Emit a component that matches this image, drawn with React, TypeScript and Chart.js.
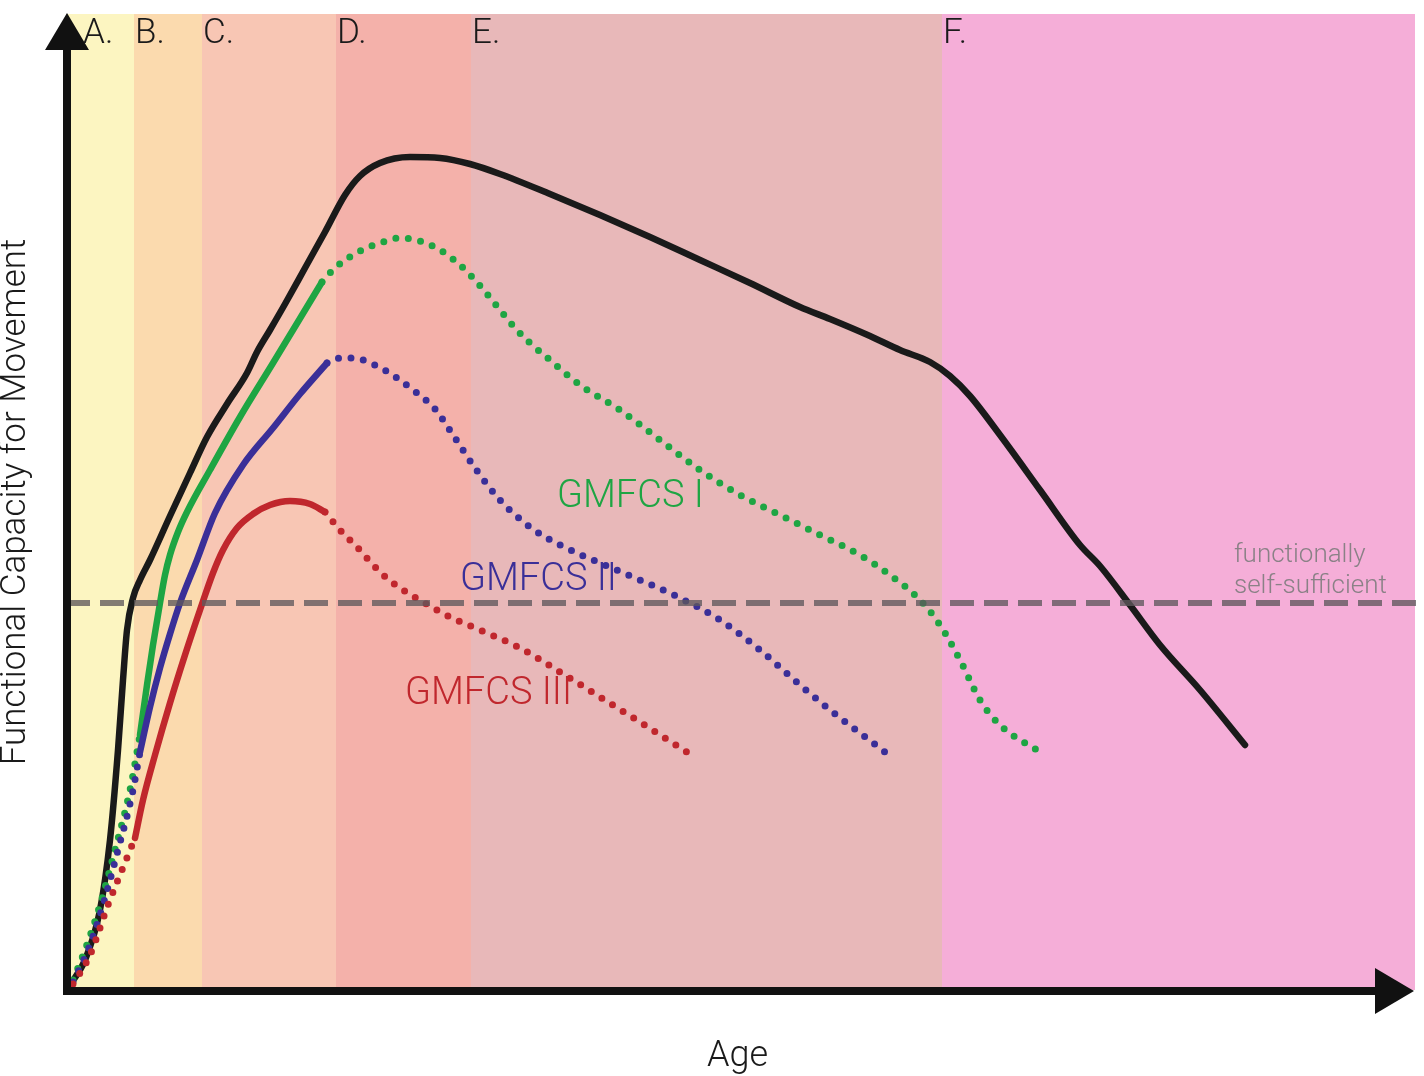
import React, { useEffect, useRef } from "react";
import { Chart, registerables } from "chart.js";

Chart.register(...registerables);

// Units: age (x) and functional capacity (y) in arbitrary units
const xMax = 1349;
const yMax = 976;

const bandLabels = ["A.", "B.", "C.", "D.", "E.", "F."];
const bandStarts = [0, 68, 136, 270, 405, 876];
const bandColors = ["#fcf5c1", "#fbdaae", "#f8c6b4", "#f4b1aa", "#e8b8b9", "#f5aed8"];

const selfSufficientLevel = 387;

const typical = [
  [4, 5], [19, 30], [34, 80], [44, 150], [52, 240], [57, 310], [61, 360], [67, 392],
  [74, 410], [84, 430], [104, 474], [124, 517], [141, 553], [161, 586], [181, 617],
  [191, 638], [204, 660], [219, 686], [239, 722], [259, 758], [279, 795], [294, 814],
  [314, 827], [344, 833], [374, 832], [404, 826], [434, 816], [484, 796], [534, 775],
  [584, 753], [634, 730], [684, 707], [734, 683], [764, 671], [804, 654], [834, 640],
  [864, 628], [884, 614], [904, 594], [934, 555], [974, 500], [1014, 445], [1034, 424],
  [1064, 385], [1094, 345], [1134, 300], [1179, 245],
];

const gmfcs1Early = [[7, 10], [19, 40], [34, 85], [49, 140], [64, 200], [74, 255]];
const gmfcs1Solid = [
  [74, 255], [81, 305], [87, 345], [94, 387], [99, 415], [104, 435], [112, 458],
  [121, 478], [144, 520], [174, 573], [207, 627], [227, 660], [256, 708],
];
const gmfcs1Late = [
  [256, 708], [269, 722], [292, 738], [314, 747], [334, 752], [354, 749], [374, 740],
  [394, 725], [416, 702], [434, 680], [449, 662], [464, 647], [484, 630], [514, 605],
  [554, 580], [594, 550], [634, 520], [674, 495], [714, 475], [754, 455], [794, 435],
  [824, 415], [854, 390], [874, 365], [894, 330], [914, 290], [934, 265], [974, 238],
];

const gmfcs2Early = [[7, 8], [22, 40], [37, 85], [52, 140], [66, 195], [74, 238]];
const gmfcs2Solid = [
  [74, 238], [84, 283], [94, 322], [104, 356], [114, 387], [131, 430], [149, 477],
  [177, 525], [207, 562], [234, 596], [261, 627],
];
const gmfcs2Late = [
  [261, 627], [274, 632], [287, 632], [311, 624], [331, 612], [351, 597], [369, 581],
  [389, 552], [409, 522], [434, 490], [464, 463], [494, 445], [534, 427], [574, 410],
  [614, 392], [654, 370], [694, 340], [734, 305], [764, 280], [794, 257], [819, 238],
];

const gmfcs3Early = [[7, 6], [24, 35], [42, 85], [56, 120], [69, 152]];
const gmfcs3Solid = [
  [69, 152], [77, 190], [89, 235], [104, 287], [119, 335], [134, 380], [147, 417],
  [157, 440], [171, 462], [187, 476], [204, 485], [224, 489], [244, 486], [259, 478],
];
const gmfcs3Late = [
  [259, 478], [274, 460], [291, 443], [314, 418], [334, 402], [359, 387], [384, 373],
  [414, 360], [454, 342], [494, 318], [534, 293], [574, 268], [624, 236],
];

const seriesLabels = ["GMFCS I", "GMFCS II", "GMFCS III"];
const seriesLabelPos = [[491, 493], [394, 410], [339, 296]];
const thresholdLabel = ["functionally", "self-sufficient"];

const BLACK = "#1a1a1a";
const GREEN = "#1ea543";
const BLUE = "#3a2f98";
const RED = "#c0272d";
const FONT = "Roboto, 'Liberation Sans', sans-serif";

const pts = (a: number[][]) => a.map(([x, y]) => ({ x, y }));

const solid = (data: number[][], color: string, width = 6.5) => ({
  data: pts(data),
  borderColor: color,
  borderWidth: width,
  borderCapStyle: "round" as const,
  borderJoinStyle: "round" as const,
  pointRadius: 0,
  cubicInterpolationMode: "monotone" as const,
  fill: false,
});
const dotted = (data: number[][], color: string) => ({
  ...solid(data, color, 7),
  borderDash: [0, 12.5],
});

export default function App() {
  const ref = useRef<HTMLCanvasElement>(null);
  useEffect(() => {
    if (!ref.current) return;
    const bgPlugin = {
      id: "bands",
      beforeDatasetsDraw(chart: any) {
        const { ctx, chartArea, scales } = chart;
        const x = scales.x;
        ctx.save();
        bandStarts.forEach((s, i) => {
          const x0 = x.getPixelForValue(s);
          const x1 = x.getPixelForValue(i + 1 < bandStarts.length ? bandStarts[i + 1] : xMax);
          ctx.fillStyle = bandColors[i];
          ctx.fillRect(x0, chartArea.top, x1 - x0, chartArea.bottom - chartArea.top);
        });
        ctx.restore();
      },
    };
    const overlay = {
      id: "overlay",
      afterDatasetsDraw(chart: any) {
        const { ctx, chartArea, scales } = chart;
        const x = scales.x;
        const y = scales.y;
        ctx.save();
        // axes
        const x0 = x.getPixelForValue(0) + 1;
        const y0 = y.getPixelForValue(0) + 1;
        ctx.strokeStyle = "#111";
        ctx.fillStyle = "#111";
        ctx.lineWidth = 8;
        ctx.lineCap = "round";
        ctx.beginPath();
        ctx.moveTo(x0, chartArea.top + 30);
        ctx.lineTo(x0, y0);
        ctx.lineTo(chartArea.right - 30, y0);
        ctx.stroke();
        ctx.beginPath();
        ctx.moveTo(x0, chartArea.top - 1);
        ctx.lineTo(x0 - 22, chartArea.top + 36);
        ctx.lineTo(x0 + 22, chartArea.top + 36);
        ctx.closePath();
        ctx.fill();
        ctx.beginPath();
        ctx.moveTo(chartArea.right - 1, y0);
        ctx.lineTo(chartArea.right - 40, y0 - 23);
        ctx.lineTo(chartArea.right - 40, y0 + 23);
        ctx.closePath();
        ctx.fill();

        // band letters
        ctx.font = `300 35px ${FONT}`;
        ctx.textBaseline = "middle";
        ctx.textAlign = "left";
        ctx.fillStyle = "#1a1a1a";
        bandLabels.forEach((l, i) => {
          const px = x.getPixelForValue(bandStarts[i]) + (i === 0 ? 17 : 1);
          ctx.fillText(l, px, chartArea.top + 20);
        });

        // series labels
        ctx.font = `300 38px ${FONT}`;
        const colors = [GREEN, BLUE, RED];
        seriesLabels.forEach((l, i) => {
          ctx.fillStyle = colors[i];
          ctx.fillText(l, x.getPixelForValue(seriesLabelPos[i][0]), y.getPixelForValue(seriesLabelPos[i][1]));
        });

        // threshold label
        ctx.font = `300 26px ${FONT}`;
        ctx.fillStyle = "#8a8186";
        ctx.fillText(thresholdLabel[0], x.getPixelForValue(1168), y.getPixelForValue(selfSufficientLevel + 48));
        ctx.fillText(thresholdLabel[1], x.getPixelForValue(1168), y.getPixelForValue(selfSufficientLevel + 17));

        // axis titles
        ctx.font = `300 36px ${FONT}`;
        ctx.fillStyle = "#1a1a1a";
        ctx.textAlign = "center";
        ctx.fillText("Age", (chartArea.left + chartArea.right) / 2 - 3, y0 + 66);
        ctx.font = `300 35px ${FONT}`;
        ctx.translate(16, 502);
        ctx.rotate(-Math.PI / 2);
        ctx.fillText("Functional Capacity for Movement", 0, 0);
        ctx.restore();
      },
    };
    const chart = new Chart(ref.current, {
      type: "line",
      data: {
        datasets: [
          {
            data: [{ x: 0, y: selfSufficientLevel }, { x: xMax + 6, y: selfSufficientLevel }],
            borderColor: "rgba(95,88,92,0.78)",
            borderWidth: 6,
            borderDash: [24, 10],
            pointRadius: 0,
            clip: false,
            fill: false,
          } as any,
          dotted(gmfcs3Early, RED),
          solid(gmfcs3Solid, RED),
          dotted(gmfcs3Late, RED),
          dotted(gmfcs2Early, BLUE),
          solid(gmfcs2Solid, BLUE),
          dotted(gmfcs2Late, BLUE),
          dotted(gmfcs1Early, GREEN),
          solid(gmfcs1Solid, GREEN),
          dotted(gmfcs1Late, GREEN),
          solid(typical, BLACK, 6.5),
        ],
      },
      options: {
        responsive: false,
        animation: false,
        layout: { padding: { left: 66, right: 9, top: 14, bottom: 86 } },
        plugins: { legend: { display: false }, tooltip: { enabled: false } },
        events: [],
        scales: {
          x: { type: "linear", min: 0, max: xMax, display: false },
          y: { type: "linear", min: 0, max: yMax, display: false },
        },
      },
      plugins: [bgPlugin, overlay],
    });
    return () => chart.destroy();
  }, []);
  return (
    <div style={{ position: "fixed", left: 0, top: 0, width: 1424, height: 1076, background: "#fff" }}>
      <canvas ref={ref} width={1424} height={1076} />
    </div>
  );
}
